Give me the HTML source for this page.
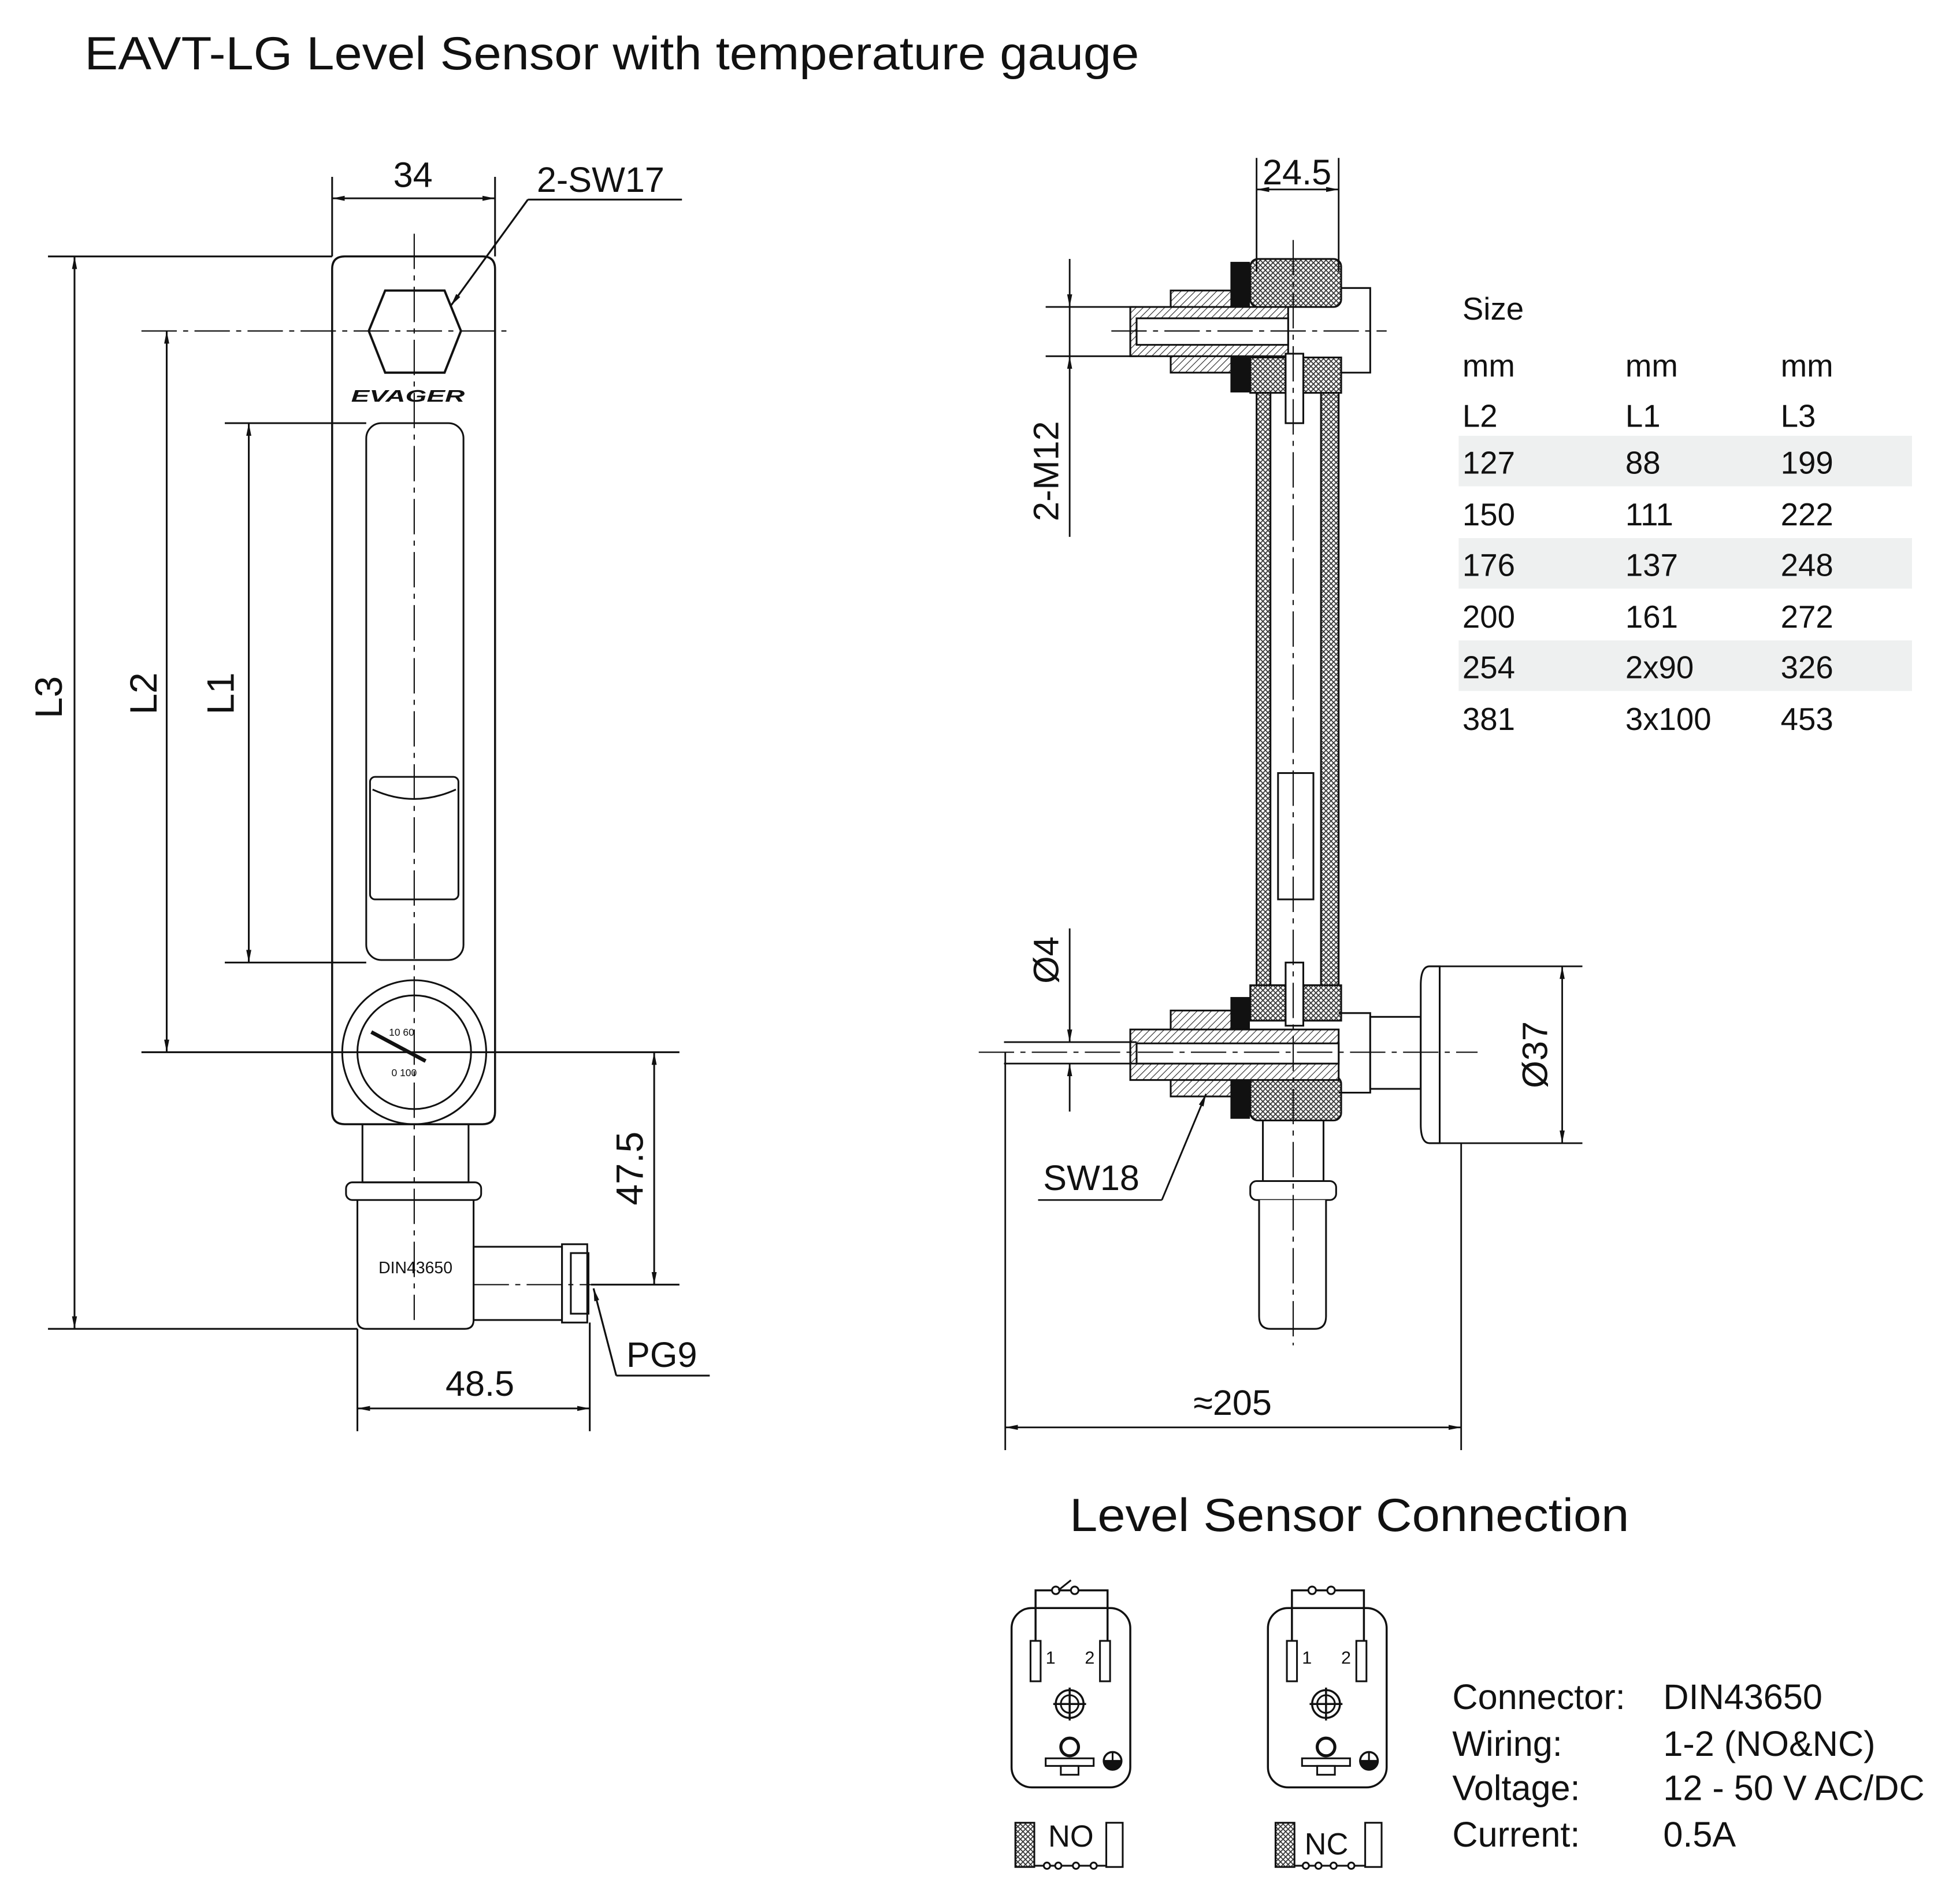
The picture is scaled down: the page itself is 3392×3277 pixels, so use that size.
<!DOCTYPE html>
<html><head><meta charset="utf-8"><style>
html,body{margin:0;padding:0;background:#fff}
svg{display:block}
text{font-family:"Liberation Sans",Arial,sans-serif;fill:#111}
</style></head><body>
<svg width="3392" height="3277" viewBox="0 0 1552 1499.4" preserveAspectRatio="none" xmlns="http://www.w3.org/2000/svg">
<defs>
<marker id="a" viewBox="0 0 10 10" refX="10" refY="5" markerWidth="10" markerHeight="10" markerUnits="userSpaceOnUse" orient="auto-start-reverse"><path d="M0,3 L10,5 L0,7 Z" fill="#111"/></marker>
<pattern id="h" width="4" height="4" patternUnits="userSpaceOnUse"><rect width="4" height="4" fill="#fff"/><path d="M0,0 L4,4 M4,0 L0,4" stroke="#333" stroke-width="0.8"/></pattern>
<pattern id="d" width="4" height="4" patternUnits="userSpaceOnUse" patternTransform="rotate(45)"><rect width="4" height="4" fill="#fff"/><path d="M0,0 L0,4" stroke="#222" stroke-width="1"/></pattern>
<g id="conn">
<rect x="0" y="0" width="94" height="142" rx="16" fill="none" stroke="#111" stroke-width="1.6"/>
<path d="M19,26 V-14 H76 V26" fill="none" stroke="#111" stroke-width="1.6"/>
<rect x="15" y="26" width="8" height="32" fill="#fff" stroke="#111" stroke-width="1.4"/>
<rect x="70" y="26" width="8" height="32" fill="#fff" stroke="#111" stroke-width="1.4"/>
<text x="27" y="44" font-size="14">1</text><text x="58" y="44" font-size="14">2</text>
<circle cx="46" cy="76" r="11" fill="none" stroke="#111" stroke-width="1.6"/>
<circle cx="46" cy="76" r="7" fill="none" stroke="#111" stroke-width="1.4"/>
<path d="M33,76 H59 M46,63 V89" stroke="#111" stroke-width="1.6"/>
<circle cx="46" cy="110" r="7" fill="none" stroke="#111" stroke-width="2.4"/>
<rect x="27" y="119" width="38" height="6" fill="#fff" stroke="#111" stroke-width="1.4"/>
<rect x="39" y="125" width="14" height="7" fill="#fff" stroke="#111" stroke-width="1.4"/>
<circle cx="80" cy="121" r="7" fill="#fff" stroke="#111" stroke-width="1.6"/>
<path d="M73,121 A7,7 0 0 0 87,121 Z M80,114 V121" fill="#111" stroke="#111" stroke-width="1.4"/>
</g>
</defs>

<text x="67" y="55" font-size="37" textLength="835" lengthAdjust="spacingAndGlyphs">EAVT-LG Level Sensor with temperature gauge</text>

<g stroke="#111" stroke-width="1.4" fill="none">
<!-- LEFT VIEW -->
<path d="M273,203 H382 Q392,203 392,213 V880 Q392,890 382,890 H273 Q263,890 263,880 V213 Q263,203 273,203 Z" stroke-width="1.6"/>
<polygon points="292,262 305,230 352,230 365,262 352,295 305,295" stroke-width="1.8"/>
<rect x="290" y="335" width="77" height="425" rx="12"/>
<rect x="293" y="615" width="70" height="97" rx="4"/>
<path d="M295,625 Q328,640 361,625"/>
<circle cx="328" cy="833" r="57"/>
<circle cx="328" cy="833" r="45"/>
<path d="M294,817 L337,840" stroke-width="3"/>
<rect x="287" y="890" width="84" height="46"/>
<rect x="274" y="936" width="107" height="14" rx="5"/>
<path d="M283,950 V1045 Q283,1052 290,1052 H368 Q375,1052 375,1045 V950"/>
<rect x="375" y="987" width="70" height="58"/>
<rect x="445" y="985" width="20" height="62"/>
<rect x="452" y="992" width="14" height="48"/>
<!-- center lines -->
<path d="M328,185 V1045 M112,262 H405 M375,1017 H468" stroke-width="1" stroke-dasharray="28,5,4,5"/>
<!-- dims -->
<path d="M263,140 V203 M392,140 V203"/>
<path d="M263,157 H392" marker-start="url(#a)" marker-end="url(#a)"/>
<path d="M418,158 H540 M418,158 L357,242" />
<path d="M418,158 L357,242" marker-end="url(#a)"/>
<path d="M38,203 H263 M38,1052 H283"/>
<path d="M59,203 V1052" marker-start="url(#a)" marker-end="url(#a)"/>
<path d="M112,833 H538"/>
<path d="M132,262 V833" marker-start="url(#a)" marker-end="url(#a)"/>
<path d="M178,335 H290 M178,762 H290"/>
<path d="M197,335 V762" marker-start="url(#a)" marker-end="url(#a)"/>
<path d="M468,1017 H538"/>
<path d="M518,833 V1017" marker-start="url(#a)" marker-end="url(#a)"/>
<path d="M283,1052 V1133 M467,1047 V1133"/>
<path d="M283,1115 H467" marker-start="url(#a)" marker-end="url(#a)"/>
<path d="M488,1089 H562 M488,1089 L470,1020" />
<path d="M488,1089 L470,1020" marker-end="url(#a)"/>
</g>
<text x="278" y="318" font-size="13" font-style="italic" font-weight="bold" fill="#555" textLength="90" lengthAdjust="spacingAndGlyphs">EVAGER</text>
<text x="308" y="820" font-size="8">10 60</text><text x="310" y="852" font-size="8">0  100</text>
<text x="327" y="148" font-size="28" text-anchor="middle">34</text>
<text x="425" y="152" font-size="28">2-SW17</text>
<text x="329" y="1008" font-size="13" text-anchor="middle">DIN43650</text>
<text x="380" y="1105" font-size="28" text-anchor="middle">48.5</text>
<text x="496" y="1082" font-size="28">PG9</text>
<text font-size="30" transform="translate(49,552) rotate(-90)" text-anchor="middle">L3</text>
<text font-size="30" transform="translate(124,549) rotate(-90)" text-anchor="middle">L2</text>
<text font-size="30" transform="translate(185,549) rotate(-90)" text-anchor="middle">L1</text>
<text font-size="30" transform="translate(509,925) rotate(-90)" text-anchor="middle">47.5</text>

<!-- RIGHT VIEW -->
<g stroke="#111" stroke-width="1.4">
<!-- tube -->
<rect x="995" y="285" width="65" height="505" fill="url(#h)"/>
<rect x="1006" y="295" width="40" height="485" fill="#fff"/>
<rect x="1012" y="612" width="28" height="100" fill="#fff"/>
<!-- top fitting -->
<rect x="990" y="205" width="72" height="38" rx="6" fill="url(#h)"/>
<rect x="990" y="283" width="72" height="28" fill="url(#h)"/>
<rect x="975" y="208" width="14" height="102" fill="#111"/>
<rect x="927" y="230" width="48" height="65" fill="url(#d)"/>
<rect x="895" y="243" width="125" height="39" fill="url(#d)"/>
<rect x="900" y="252" width="120" height="21" fill="#fff"/>
<rect x="1018" y="280" width="14" height="55" fill="#fff"/>
<path d="M1062,228 H1085 V295 H1062" fill="none"/>
<!-- bottom fitting -->
<rect x="990" y="780" width="72" height="28" fill="url(#h)"/>
<rect x="990" y="852" width="72" height="35" rx="6" fill="url(#h)"/>
<rect x="975" y="790" width="14" height="95" fill="#111"/>
<rect x="927" y="800" width="48" height="68" fill="url(#d)"/>
<rect x="895" y="815" width="165" height="40" fill="url(#d)"/>
<rect x="900" y="826" width="160" height="16" fill="#fff"/>
<rect x="1018" y="762" width="14" height="50" fill="#fff"/>
<path d="M1060,802 H1085 V865 H1060" fill="none"/>
<rect x="1085" y="805" width="40" height="57" fill="#fff"/>
<path d="M1140,765 V905 H1132 Q1125,905 1125,890 V780 Q1125,765 1132,765 Z" fill="#fff"/>
<rect x="1000" y="887" width="48" height="48" fill="#fff"/>
<rect x="990" y="935" width="68" height="15" rx="5" fill="#fff"/>
<path d="M997,950 V1042 Q997,1052 1006,1052 H1041 Q1050,1052 1050,1042 V950" fill="#fff"/>
</g>
<g stroke="#111" stroke-width="1.3" fill="none">
<path d="M1024,190 V1065 M880,262 H1098 M775,833 H1170" stroke-width="1" stroke-dasharray="28,5,4,5"/>
<path d="M995,125 V215 M1060,125 V215"/>
<path d="M995,150 H1060" marker-start="url(#a)" marker-end="url(#a)"/>
<path d="M828,243 H900 M828,282 H900"/>
<path d="M847,205 V243" marker-end="url(#a)"/>
<path d="M847,425 V282" marker-end="url(#a)"/>
<path d="M847,243 V282"/>
<path d="M795,825 H900 M795,842 H900"/>
<path d="M847,735 V825" marker-end="url(#a)"/>
<path d="M847,880 V842" marker-end="url(#a)"/>
<path d="M796,833 V1148 M1157,905 V1148"/>
<path d="M796,1130 H1157" marker-start="url(#a)" marker-end="url(#a)"/>
<path d="M1140,765 H1253 M1140,905 H1253"/>
<path d="M1237,765 V905" marker-start="url(#a)" marker-end="url(#a)"/>
<path d="M822,950 H920 M920,950 L955,866" />
<path d="M920,950 L955,866" marker-end="url(#a)"/>
</g>
<text x="1027" y="146" font-size="28" text-anchor="middle">24.5</text>
<text font-size="28" transform="translate(838,373) rotate(-90)" text-anchor="middle">2-M12</text>
<text font-size="28" transform="translate(838,760) rotate(-90)" text-anchor="middle">Ø4</text>
<text font-size="28" transform="translate(1225,835) rotate(-90)" text-anchor="middle">Ø37</text>
<text x="826" y="942" font-size="28">SW18</text>
<text x="976" y="1120" font-size="28" text-anchor="middle">≈205</text>

<!-- table -->
<rect x="1155" y="345" width="359" height="40" fill="#eef0f0"/>
<rect x="1155" y="426" width="359" height="40" fill="#eef0f0"/>
<rect x="1155" y="507" width="359" height="40" fill="#eef0f0"/>
<g font-size="25">
<text x="1158" y="253">Size</text>
<text x="1158" y="298">mm</text><text x="1287" y="298">mm</text><text x="1410" y="298">mm</text>
<text x="1158" y="338">L2</text><text x="1287" y="338">L1</text><text x="1410" y="338">L3</text>
<text x="1158" y="375">127</text><text x="1287" y="375">88</text><text x="1410" y="375">199</text>
<text x="1158" y="416">150</text><text x="1287" y="416">111</text><text x="1410" y="416">222</text>
<text x="1158" y="456">176</text><text x="1287" y="456">137</text><text x="1410" y="456">248</text>
<text x="1158" y="497">200</text><text x="1287" y="497">161</text><text x="1410" y="497">272</text>
<text x="1158" y="537">254</text><text x="1287" y="537">2x90</text><text x="1410" y="537">326</text>
<text x="1158" y="578">381</text><text x="1287" y="578">3x100</text><text x="1410" y="578">453</text>
</g>

<text x="847" y="1212" font-size="37" textLength="443" lengthAdjust="spacingAndGlyphs">Level Sensor Connection</text>

<use href="#conn" x="801" y="1273"/>
<use href="#conn" x="1004" y="1273"/>
<g stroke="#111" stroke-width="1.4" fill="#fff">
<circle cx="836" cy="1259" r="3"/><circle cx="851" cy="1259" r="3"/>
<path d="M838,1259 L848,1251" fill="none"/>
<circle cx="1039" cy="1259" r="3"/><circle cx="1054" cy="1259" r="3"/>
<rect x="804" y="1443" width="15" height="35" fill="url(#h)"/>
<rect x="876" y="1443" width="13" height="35"/>
<path d="M819,1477 H876" fill="none"/>
<circle cx="829" cy="1477" r="2.5"/><circle cx="838" cy="1477" r="2.5"/><circle cx="852" cy="1477" r="2.5"/><circle cx="866" cy="1477" r="2.5"/>
<rect x="1010" y="1443" width="15" height="35" fill="url(#h)"/>
<rect x="1081" y="1443" width="13" height="35"/>
<path d="M1025,1477 H1081" fill="none"/>
<circle cx="1034" cy="1477" r="2.5"/><circle cx="1044" cy="1477" r="2.5"/><circle cx="1056" cy="1477" r="2.5"/><circle cx="1070" cy="1477" r="2.5"/>
</g>
<text x="830" y="1462" font-size="24">NO</text>
<text x="1033" y="1468" font-size="24">NC</text>

<g font-size="28">
<text x="1150" y="1353">Connector:</text><text x="1317" y="1353">DIN43650</text>
<text x="1150" y="1390">Wiring:</text><text x="1317" y="1390">1-2 (NO&amp;NC)</text>
<text x="1150" y="1425">Voltage:</text><text x="1317" y="1425">12 - 50 V AC/DC</text>
<text x="1150" y="1462">Current:</text><text x="1317" y="1462">0.5A</text>
</g>
</svg>
</body></html>
